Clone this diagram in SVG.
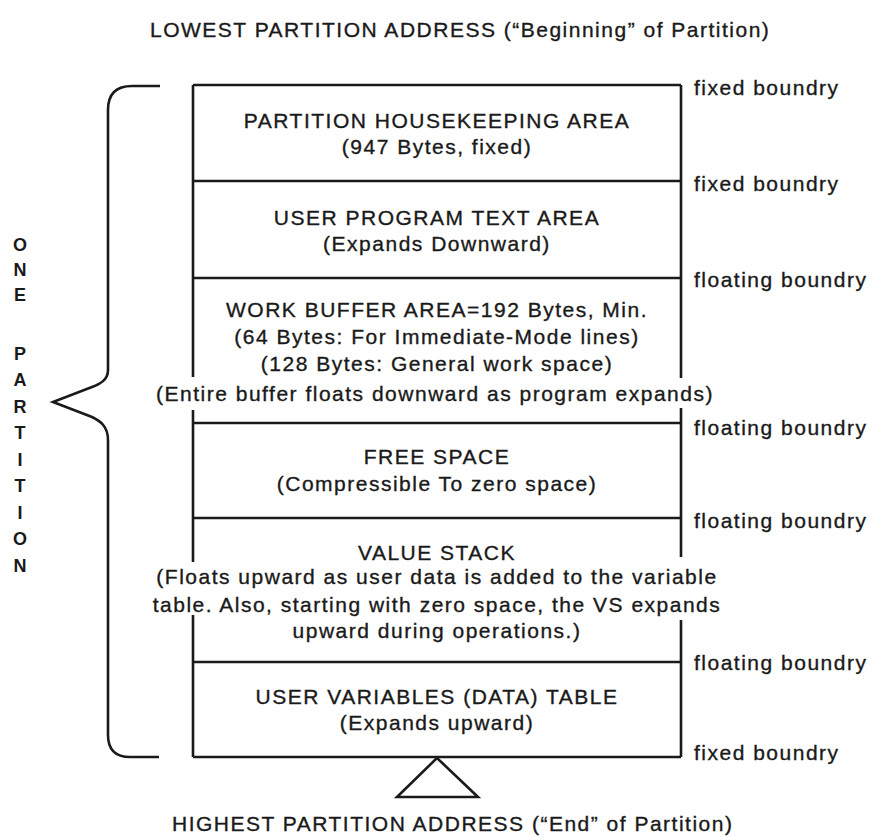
<svg xmlns="http://www.w3.org/2000/svg" width="873" height="837" viewBox="0 0 873 837">
<style>
text{font-family:"Liberation Sans",Arial,Helvetica,sans-serif;fill:#1a1a1a;stroke:#1a1a1a;stroke-width:0.35;}
.t{font-size:21px;letter-spacing:1.5px;}
.c{text-anchor:middle;}
.v{font-size:18px;font-weight:bold;text-anchor:middle;stroke-width:0;}
.ln{stroke:#1a1a1a;stroke-width:2.6;fill:none;stroke-linecap:butt;}
</style>
<rect width="873" height="837" fill="#ffffff"/>
<g id="title-top"><text class="t" x="150" y="37">LOWEST PARTITION ADDRESS (“Beginning” of Partition)</text></g>
<g id="title-bottom"><text class="t" x="172" y="831">HIGHEST PARTITION ADDRESS (“End” of Partition)</text></g>
<g id="connectors">
<path class="ln" d="M193,85 H681 M193,181 H681 M193,278 H681 M193,423 H681 M193,518 H681 M193,662 H681 M193,757 H681"/>
<path class="ln" d="M193,85 V377 M193,410 V562 M193,615 V757"/>
<path class="ln" d="M681,85 V378 M681,408 V557 M681,620 V757"/>
<path class="ln" d="M160,86 H132 Q108,86 108,110 V370 C108,380 100,384 92,387 L53,402 L92,417 C100,421 108,426 108,440 V735 Q108,757 130,757 H159"/>
<path class="ln" d="M437,758 L397,797 H478 Z" fill="#ffffff"/>
</g>
<g id="node-housekeeping">
<text class="t c" x="437" y="128">PARTITION HOUSEKEEPING AREA</text>
<text class="t c" x="437" y="154">(947 Bytes, fixed)</text>
</g>
<g id="node-program-text">
<text class="t c" x="437" y="225">USER PROGRAM TEXT AREA</text>
<text class="t c" x="437" y="251">(Expands Downward)</text>
</g>
<g id="node-work-buffer">
<text class="t c" x="437" y="317">WORK BUFFER AREA=192 Bytes, Min.</text>
<text class="t c" x="437" y="344">(64 Bytes: For Immediate-Mode lines)</text>
<text class="t c" x="437" y="371">(128 Bytes: General work space)</text>
<text class="t c" x="435" y="401">(Entire buffer floats downward as program expands)</text>
</g>
<g id="node-free-space">
<text class="t c" x="437" y="464">FREE SPACE</text>
<text class="t c" x="437" y="491">(Compressible To zero space)</text>
</g>
<g id="node-value-stack">
<text class="t c" x="437" y="560">VALUE STACK</text>
<text class="t c" x="437" y="584">(Floats upward as user data is added to the variable</text>
<text class="t c" x="437" y="612">table. Also, starting with zero space, the VS expands</text>
<text class="t c" x="437" y="638">upward during operations.)</text>
</g>
<g id="node-user-variables">
<text class="t c" x="437" y="704">USER VARIABLES (DATA) TABLE</text>
<text class="t c" x="437" y="730">(Expands upward)</text>
</g>
<g id="boundary-labels">
<text class="t" x="694" y="95">fixed boundry</text>
<text class="t" x="694" y="191">fixed boundry</text>
<text class="t" x="694" y="287">floating boundry</text>
<text class="t" x="694" y="435">floating boundry</text>
<text class="t" x="694" y="528">floating boundry</text>
<text class="t" x="694" y="670">floating boundry</text>
<text class="t" x="694" y="760">fixed boundry</text>
</g>
<g id="one-partition">
<text class="v" x="20" y="251">O</text>
<text class="v" x="20" y="276">N</text>
<text class="v" x="20" y="301">E</text>
<text class="v" x="20" y="360">P</text>
<text class="v" x="20" y="386">A</text>
<text class="v" x="20" y="413">R</text>
<text class="v" x="20" y="439">T</text>
<text class="v" x="20" y="466">I</text>
<text class="v" x="20" y="492">T</text>
<text class="v" x="20" y="519">I</text>
<text class="v" x="20" y="545">O</text>
<text class="v" x="20" y="572">N</text>
</g>
</svg>
